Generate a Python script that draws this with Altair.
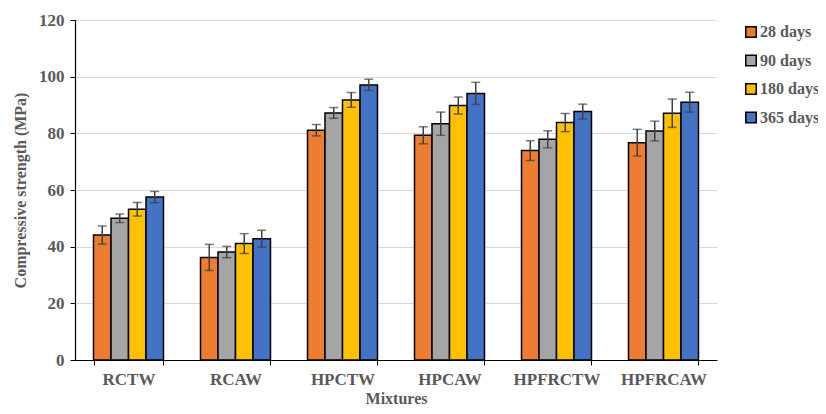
import altair as alt
import pandas as pd

mixtures = ["RCTW", "RCAW", "HPCTW", "HPCAW", "HPFRCTW", "HPFRCAW"]
ages = ["28 days", "90 days", "180 days", "365 days"]
colors = ["#ED7D31", "#A5A5A5", "#FFC000", "#4472C4"]

s28 = [44.1, 36.2, 81.1, 79.3, 73.9, 76.7]
s90 = [50.0, 38.1, 87.2, 83.4, 77.9, 80.8]
s180 = [53.2, 41.1, 91.8, 89.8, 83.8, 87.1]
s365 = [57.5, 42.8, 97.1, 94.1, 87.7, 91.0]

e28 = [3.2, 4.6, 2.0, 3.0, 3.5, 4.7]
e90 = [1.5, 2.0, 1.9, 4.1, 3.0, 3.5]
e180 = [2.4, 3.5, 2.6, 3.0, 3.2, 5.0]
e365 = [2.0, 3.0, 2.0, 3.9, 2.6, 3.5]

rows = []
for age, vals, errs in zip(ages, [s28, s90, s180, s365], [e28, e90, e180, e365]):
    for m, v, e in zip(mixtures, vals, errs):
        rows.append({"Mixture": m, "Age": age, "Strength": v,
                     "Low": v - e, "High": v + e})
df = pd.DataFrame(rows)

FONT = "Liberation Serif"
TXT = "#595959"

x_enc = alt.X("Mixture:N", sort=mixtures,
              scale=alt.Scale(paddingInner=0.346, paddingOuter=0.173),
              axis=alt.Axis(title="Mixtures", labelAngle=0, tickBand="extent",
                            labelFontSize=17, labelFontWeight="bold", labelColor=TXT,
                            labelPadding=6, titleFontSize=16, titleFontWeight="bold",
                            titleColor=TXT, titlePadding=3, domainColor="black",
                            tickColor="black", tickSize=5, domainWidth=1.2))
xoff = alt.XOffset("Age:N", sort=ages)

bars = alt.Chart(df).mark_bar(stroke="black", strokeWidth=1.5).encode(
    x=x_enc,
    xOffset=xoff,
    y=alt.Y("Strength:Q",
            scale=alt.Scale(domain=[0, 120]),
            axis=alt.Axis(title="Compressive strength (MPa)", values=[0, 20, 40, 60, 80, 100, 120],
                          labelFontSize=17, labelFontWeight="bold", labelColor=TXT,
                          titleFontSize=16, titleFontWeight="bold", titleColor=TXT,
                          titlePadding=10, gridColor="#D9D9D9", gridWidth=1.2,
                          domainColor="black", tickColor="black", tickSize=5,
                          domainWidth=1.2, labelPadding=6)),
    color=alt.Color("Age:N", sort=ages,
                    scale=alt.Scale(domain=ages, range=colors),
                    legend=alt.Legend(title=None, orient="none", legendX=668, legendY=4,
                                      padding=0,
                                      symbolType="square", symbolSize=110,
                                      symbolStrokeColor="black", symbolStrokeWidth=1.5,
                                      labelFontSize=16, labelFontWeight="bold",
                                      labelColor=TXT, rowPadding=10.5, labelOffset=1)),
)

rules = alt.Chart(df).mark_rule(color="#404040", strokeWidth=1.5).encode(
    x=alt.X("Mixture:N", sort=mixtures),
    xOffset=xoff,
    y="Low:Q",
    y2="High:Q",
)
caps_lo = alt.Chart(df).mark_tick(color="#404040", size=9, thickness=1.5).encode(
    x=alt.X("Mixture:N", sort=mixtures),
    xOffset=xoff,
    y="Low:Q",
)
caps_hi = alt.Chart(df).mark_tick(color="#404040", size=9, thickness=1.5).encode(
    x=alt.X("Mixture:N", sort=mixtures),
    xOffset=xoff,
    y="High:Q",
)

chart = alt.layer(bars, rules, caps_lo, caps_hi).properties(
    width=642, height=340,
    autosize=alt.AutoSizeParams(type="none"),
    padding={"left": 67, "top": 12, "right": 101, "bottom": 46},
).configure(font=FONT).configure_view(stroke=None)

chart.save("out.html", embed_options={"renderer": "svg", "actions": False})
